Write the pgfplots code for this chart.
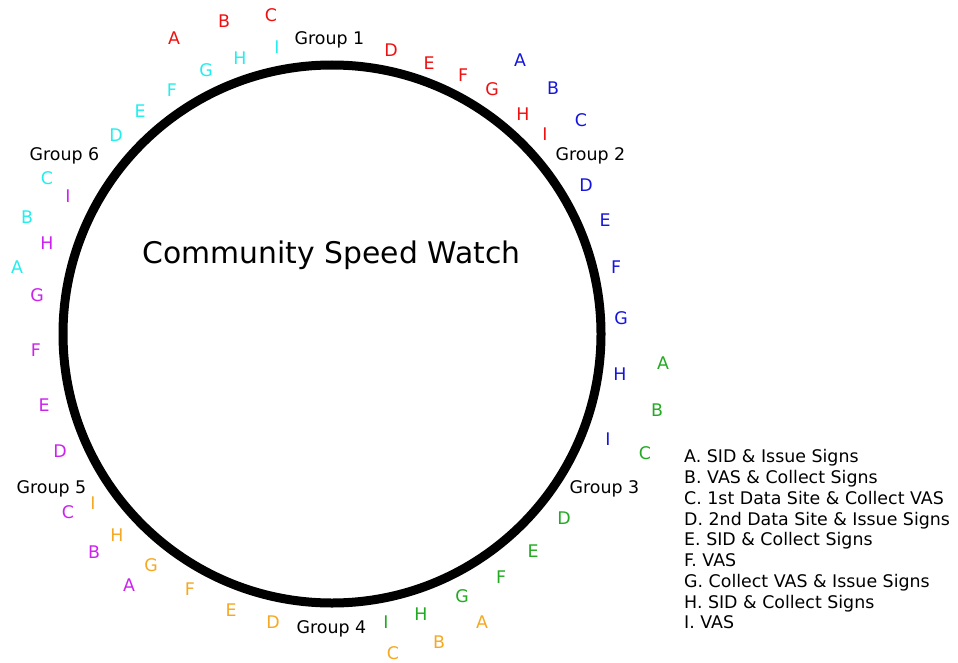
\documentclass[border=0pt]{standalone}
\usepackage{fontspec}
\setmainfont{DejaVu Sans}
\usepackage{pgfplots}
\usepackage{pgfplotstable}
\pgfplotsset{compat=1.18}
\definecolor{cred}{HTML}{EE1111}
\definecolor{cblue}{HTML}{1515DD}
\definecolor{cgreen}{HTML}{22AA22}
\definecolor{ccyan}{HTML}{22EEEE}
\definecolor{corange}{HTML}{F5A822}
\definecolor{cpurple}{HTML}{CC22EE}

\pgfplotstableread{
x y l
174 38 A
224 21 B
271 15 C
391 50 D
429 63 E
463 75 F
492 89 G
523 114 H
545 134 I
}\gone
\pgfplotstableread{
x y l
520 60 A
553 88 B
581 120 C
586 185 D
605 220 E
616 267 F
621 318 G
620 374 H
608 439 I
}\gtwo
\pgfplotstableread{
x y l
663 363 A
657 410 B
645 453 C
564 518 D
533 551 E
501 577 F
462 596 G
421 614 H
386 622 I
}\gthree
\pgfplotstableread{
x y l
482 622 A
439 642 B
393 653 C
273 622 D
231 610 E
190 589 F
151 565 G
117 535 H
93 503 I
}\gfour
\pgfplotstableread{
x y l
129 585 A
94 552 B
68 512 C
60 451 D
44 405 E
36 350 F
37 295 G
47 243 H
68 196 I
}\gfive
\pgfplotstableread{
x y l
17 267 A
27 217 B
47 178 C
116 135 D
140 111 E
172 90 F
206 70 G
240 58 H
277 47 I
}\gsix

\pgfplotsset{
  lbl/.style={only marks, mark=none, point meta=explicit symbolic,
    nodes near coords,
    every node near coord/.append style={anchor=base, yshift=-6.34bp, inner sep=0pt,
      text=#1, font=\fontsize{17.4bp}{20bp}\selectfont}},
}

\begin{document}
\begin{tikzpicture}
\begin{axis}[scale only axis, width=958bp, height=663bp,
  xmin=0, xmax=958, ymin=0, ymax=663, y dir=reverse,
  hide axis, clip=false]
\addplot[only marks, mark=o, mark size=269bp,
  mark options={line width=9bp, draw=black}] coordinates {(332,334)};
\addplot[lbl=cred] table[x=x, y=y, meta=l] {\gone};
\addplot[lbl=cblue] table[x=x, y=y, meta=l] {\gtwo};
\addplot[lbl=cgreen] table[x=x, y=y, meta=l] {\gthree};
\addplot[lbl=corange] table[x=x, y=y, meta=l] {\gfour};
\addplot[lbl=cpurple] table[x=x, y=y, meta=l] {\gfive};
\addplot[lbl=ccyan] table[x=x, y=y, meta=l] {\gsix};
\addplot[lbl=black] coordinates {
  (329.5,38.5) [Group 1]
  (590.5,154) [Group 2]
  (604.5,487) [Group 3]
  (331.5,626.7) [Group 4]
  (51.5,486.7) [Group 5]
  (64.5,154) [Group 6]
};
\node[anchor=base, inner sep=0pt, yshift=-10.86bp, font=\fontsize{29.8bp}{34bp}\selectfont]
  at (axis cs:331.5,252.5) {Community Speed Watch};
\begin{scope}[every node/.style={anchor=base west, inner sep=0pt, yshift=-6.34bp,
    font=\fontsize{17.4bp}{20bp}\selectfont}]
\node at (axis cs:684,456.5) {A. SID \& Issue Signs};
\node at (axis cs:684,477.25) {B. VAS \& Collect Signs};
\node at (axis cs:684,498) {C. 1st Data Site \& Collect VAS};
\node at (axis cs:684,518.75) {D. 2nd Data Site \& Issue Signs};
\node at (axis cs:684,539.5) {E. SID \& Collect Signs};
\node at (axis cs:684,560.25) {F. VAS};
\node at (axis cs:684,581) {G. Collect VAS \& Issue Signs};
\node at (axis cs:684,601.75) {H. SID \& Collect Signs};
\node at (axis cs:684,622.5) {I. VAS};
\end{scope}
\end{axis}
\pgfresetboundingbox
\useasboundingbox (current axis.south west) rectangle (current axis.north east);
\end{tikzpicture}
\end{document}
